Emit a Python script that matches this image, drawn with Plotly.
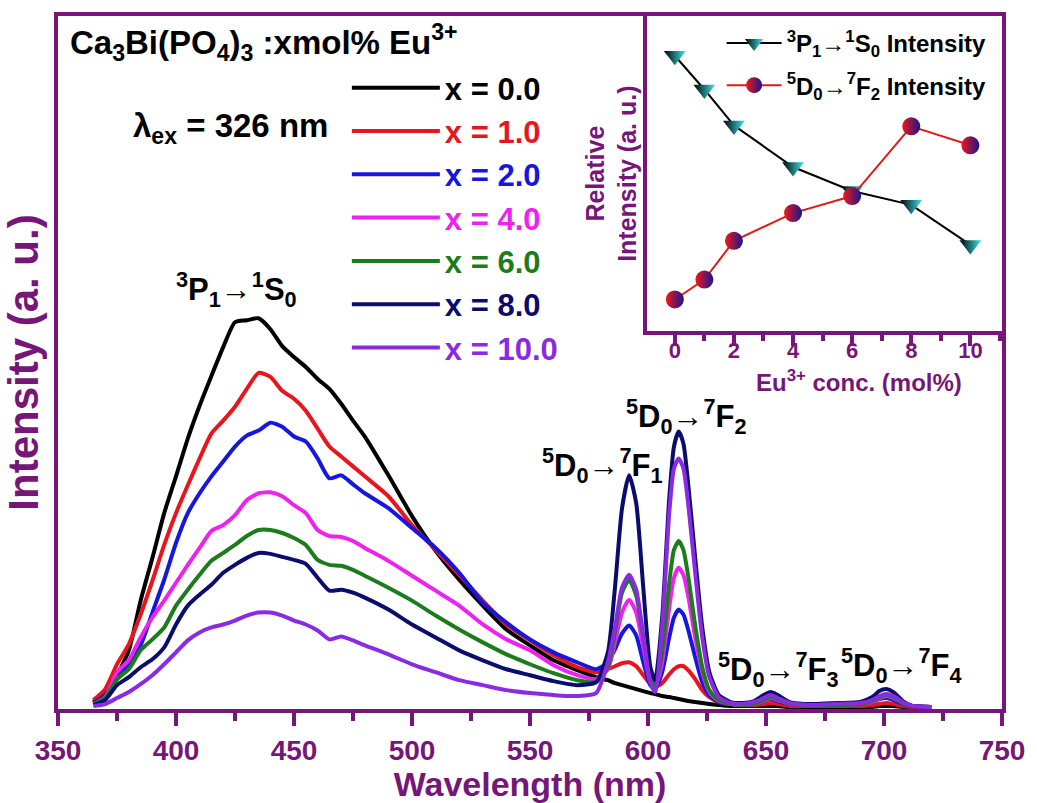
import plotly.graph_objects as go

PURPLE = "#761679"
FONT = "Liberation Sans, Arial, Helvetica, sans-serif"

# ---------------- main spectra data ----------------
wavelength = [365, 370, 375, 380, 385, 390, 395, 400, 405, 410, 415, 420, 425, 430, 435, 440,
              445, 450, 455, 460, 465, 470, 475, 480, 490, 500, 510, 520, 530, 540, 550, 560,
              570, 578, 583, 586, 589, 592, 595, 598, 601, 603, 606, 609, 611, 613, 615, 617,
              620, 623, 626, 630, 635, 640, 645, 649, 652, 655, 660, 670, 680, 690, 695, 698,
              701, 704, 708, 712, 720]

series_labels = ["x = 0.0", "x = 1.0", "x = 2.0", "x = 4.0", "x = 6.0", "x = 8.0", "x = 10.0"]
series_colors = ["#000000", "#E8161C", "#1616DC", "#EE22EE", "#1C7C1C", "#0C0C6E", "#8A2BE2"]

int_x0 = [5, 15, 32, 57, 107, 150, 195, 232, 270, 303, 333, 362, 387, 389, 391, 380,
          363, 352, 342, 330, 320, 305, 288, 272, 233, 192, 157, 128, 102, 78, 62, 47,
          37, 30, 27, 24, 22, 20, 18, 16, 14, 13, 11, 10, 9, 8, 7, 6,
          5, 4, 3, 2, 1, 1, 1, 1, 1, 1, 0, 0, 0, 0, 0, 1,
          1, 1, 0, 0, 0]
int_x1 = [7, 18, 43, 63, 93, 127, 163, 195, 223, 250, 275, 288, 302, 320, 336, 332,
          318, 310, 298, 280, 262, 252, 242, 232, 212, 183, 158, 133, 107, 83, 67, 52,
          40, 35, 38, 41, 44, 45, 41, 32, 23, 20, 24, 33, 38, 41, 41, 37,
          28, 17, 10, 5, 3, 2, 2, 3, 4, 3, 1, 1, 1, 1, 2, 3,
          4, 3, 1, 0, 0]
int_x2 = [4, 12, 28, 43, 62, 95, 128, 165, 195, 215, 232, 247, 262, 273, 278, 286,
          282, 272, 267, 250, 230, 233, 224, 215, 200, 180, 160, 135, 105, 85, 68, 55,
          45, 38, 45, 58, 74, 82, 72, 45, 22, 18, 35, 70, 90, 98, 93, 78,
          50, 25, 12, 5, 3, 2, 3, 6, 8, 6, 3, 2, 2, 3, 5, 8,
          9, 7, 3, 1, 0]
int_x4 = [3, 10, 35, 47, 70, 90, 107, 125, 143, 160, 177, 183, 193, 208, 215, 216,
          212, 203, 195, 178, 172, 171, 167, 160, 147, 132, 117, 102, 83, 68, 57, 42,
          32, 28, 38, 65, 95, 108, 95, 60, 25, 20, 45, 100, 130, 140, 133, 112,
          70, 35, 15, 6, 3, 2, 3, 6, 9, 7, 3, 2, 2, 3, 5, 9,
          11, 9, 4, 1, 0]
int_x6 = [3, 9, 28, 38, 57, 68, 80, 102, 118, 133, 147, 155, 163, 172, 178, 178,
          175, 170, 163, 148, 143, 142, 138, 132, 120, 107, 92, 78, 65, 53, 43, 34,
          27, 25, 40, 75, 115, 128, 112, 70, 28, 22, 55, 125, 158, 167, 158, 132,
          82, 40, 17, 7, 3, 2, 3, 7, 10, 8, 3, 2, 2, 3, 6, 10,
          12, 10, 4, 1, 0]
int_x8 = [2, 7, 22, 30, 40, 48, 60, 83, 102, 113, 123, 135, 143, 150, 155, 154,
          151, 148, 144, 130, 117, 118, 115, 110, 98, 83, 70, 57, 47, 38, 32, 26,
          22, 25, 55, 120, 200, 233, 205, 120, 40, 27, 90, 210, 262, 277, 265, 225,
          150, 80, 35, 12, 5, 4, 6, 12, 15, 12, 5, 3, 4, 5, 10, 16,
          18, 15, 6, 1, 0]
int_x10 = [1, 3, 9, 15, 23, 32, 43, 55, 67, 75, 80, 83, 87, 92, 95, 95,
           92, 87, 83, 77, 68, 71, 67, 62, 53, 43, 35, 27, 22, 17, 14, 12,
           11, 14, 45, 80, 120, 133, 118, 72, 25, 15, 80, 195, 240, 250, 240, 205,
           135, 70, 30, 10, 4, 3, 5, 9, 12, 9, 4, 2, 3, 4, 7, 11,
           13, 11, 5, 1, 0]
series_values = [int_x0, int_x1, int_x2, int_x4, int_x6, int_x8, int_x10]

# ---------------- inset data ----------------
eu_conc = [0, 1, 2, 4, 6, 8, 10]
int_p1s0 = [0.874, 0.767, 0.653, 0.521, 0.445, 0.401, 0.274]
int_d0f2 = [0.101, 0.164, 0.287, 0.375, 0.429, 0.650, 0.590]

fig = go.Figure()

for lab, col, vals in zip(series_labels, series_colors, series_values):
    fig.add_trace(go.Scatter(
        x=wavelength, y=vals, mode="lines",
        line=dict(color=col, width=4, shape="spline", smoothing=0.6),
        name=f'<span style="color:{col}">{lab}</span>',
        legend="legend", hoverinfo="skip"))

fig.add_trace(go.Scatter(
    x=eu_conc, y=int_p1s0, xaxis="x2", yaxis="y2", mode="lines+markers",
    line=dict(color="black", width=2),
    marker=dict(symbol="triangle-down", size=19, color="black",
                gradient=dict(type="horizontal", color="#3CE8EE"), line=dict(width=0)),
    name="<sup>3</sup>P<sub>1</sub>→<sup>1</sup>S<sub>0</sub> Intensity",
    legend="legend2", legendgroup="g1"))
fig.add_trace(go.Scatter(
    x=eu_conc, y=int_d0f2, xaxis="x2", yaxis="y2", mode="lines+markers",
    line=dict(color="#E41A1A", width=2),
    marker=dict(symbol="circle", size=18, color="#F01818",
                gradient=dict(type="horizontal", color="#161690"), line=dict(width=0)),
    name="<sup>5</sup>D<sub>0</sub>→<sup>7</sup>F<sub>2</sub> Intensity",
    legend="legend2", legendgroup="g2"))

bold = dict(family=FONT, weight="bold")

fig.update_layout(
    width=1037, height=803,
    margin=dict(l=58, r=27, t=15, b=91),
    paper_bgcolor="white", plot_bgcolor="white",
    font=dict(family=FONT, color="black"),
    showlegend=True,
    xaxis=dict(domain=[0, 1], range=[350, 750], tick0=350, dtick=50,
               showline=True, mirror=True, linecolor=PURPLE, linewidth=4,
               ticks="outside", ticklen=13, tickwidth=4, tickcolor=PURPLE,
               tickfont=dict(size=28, color=PURPLE, **bold),
               minor=dict(dtick=25, ticks="outside", ticklen=8, tickwidth=4, tickcolor=PURPLE, showgrid=False),
               showgrid=False, zeroline=False,
               title=dict(text="Wavelength (nm)", font=dict(size=34, color=PURPLE, **bold), standoff=2)),
    yaxis=dict(domain=[0, 1], range=[-2, 695], showline=True, mirror=True,
               linecolor=PURPLE, linewidth=4, ticks="", showticklabels=False,
               showgrid=False, zeroline=False,
               title=dict(text="Intensity (a. u.)", font=dict(size=42, color=PURPLE, **bold), standoff=6)),
    xaxis2=dict(domain=[0.624, 1.0], anchor="y2", range=[-0.94, 11.07], tick0=0, dtick=2,
                showline=True, mirror=True, linecolor=PURPLE, linewidth=4,
                ticks="outside", ticklen=11, tickwidth=4, tickcolor=PURPLE,
                ticklabelstandoff=-15,
                tickfont=dict(size=22, color=PURPLE, **bold),
                minor=dict(dtick=1, ticks="outside", ticklen=6, tickwidth=4, tickcolor=PURPLE, showgrid=False),
                showgrid=False, zeroline=False),
    yaxis2=dict(domain=[0.545, 1.0], anchor="x2", range=[0, 1], showline=True, mirror=True,
                linecolor=PURPLE, linewidth=4, ticks="", showticklabels=False,
                showgrid=False, zeroline=False,
                title=dict(text="Relative<br>Intensity (a. u.)", font=dict(size=25, color=PURPLE, **bold), standoff=0)),
    legend=dict(x=0.306, y=0.935, xanchor="left", yanchor="top", bgcolor="rgba(0,0,0,0)",
                font=dict(size=31, **bold), itemwidth=88, tracegroupgap=0),
    legend2=dict(x=0.703, y=0.993, xanchor="left", yanchor="top", bgcolor="rgba(0,0,0,0)",
                 font=dict(size=24, color="black", **bold), itemwidth=55, tracegroupgap=8),
)

ann_font = dict(size=31, color="black", **bold)
annotations = [
    dict(text="Ca<sub>3</sub>Bi(PO<sub>4</sub>)<sub>3</sub> :xmol% Eu<sup>3+</sup>", xref="paper", yref="paper",
         x=0.011, y=0.962, xanchor="left", yanchor="middle", font=dict(size=33, color="black", **bold)),
    dict(text="λ<sub>ex</sub> = 326 nm", xref="paper", yref="paper",
         x=0.077, y=0.839, xanchor="left", yanchor="middle", font=dict(size=33, color="black", **bold)),
    dict(text="Eu<sup>3+</sup> conc. (mol%)", xref="paper", yref="paper",
         x=0.849, y=0.473, xanchor="center", yanchor="middle", font=dict(size=24, color=PURPLE, **bold)),
    dict(text="<sup>3</sup>P<sub>1</sub>→<sup>1</sup>S<sub>0</sub>", x=425.6, y=420, xref="x", yref="y",
         font=ann_font),
    dict(text="<sup>5</sup>D<sub>0</sub>→<sup>7</sup>F<sub>1</sub>", x=580.6, y=243, xref="x", yref="y",
         font=ann_font),
    dict(text="<sup>5</sup>D<sub>0</sub>→<sup>7</sup>F<sub>2</sub>", x=616.5, y=292, xref="x", yref="y",
         font=ann_font),
    dict(text="<sup>5</sup>D<sub>0</sub>→<sup>7</sup>F<sub>3</sub>", x=655.4, y=38, xref="x", yref="y",
         font=ann_font),
    dict(text="<sup>5</sup>D<sub>0</sub>→<sup>7</sup>F<sub>4</sub>", x=707.3, y=42, xref="x", yref="y",
         font=ann_font),
]
for a in annotations:
    a["showarrow"] = False
    fig.add_annotation(**a)

fig.write_html("out.html")
